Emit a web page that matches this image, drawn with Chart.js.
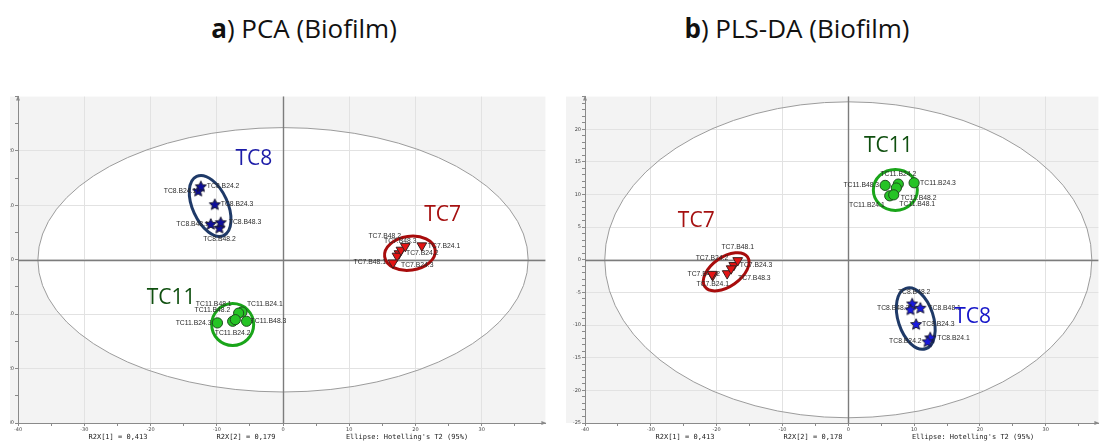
<!DOCTYPE html>
<html>
<head>
<meta charset="utf-8">
<script src="https://cdn.jsdelivr.net/npm/chart.js@4.4.1/dist/chart.umd.min.js"></script>
<style>
  html, body { margin: 0; padding: 0; background: #fff; width: 1105px; height: 446px; overflow: hidden; position: relative; }
  .title { position: absolute; top: 15px; font-family: 'Open Sans', sans-serif; font-size: 26px; line-height: 26px; color: #111; white-space: nowrap; transform: translateX(-50%); }
  .title b { font-weight: 700; }
  .cv { position: absolute; top: 90px; }
  .foot { position: absolute; top: 433px; font-family: 'DejaVu Sans Mono', monospace; font-size: 7px; line-height: 8px; color: #222; white-space: nowrap; transform: translateX(-50%); }
</style>
</head>
<body>
<div class="title" style="left:304px"><b>a</b>) PCA (Biofilm)</div>
<div class="title" style="left:797px"><b>b</b>) PLS-DA (Biofilm)</div>
<canvas id="pca" class="cv" style="left:0px" width="552" height="356"></canvas>
<canvas id="plsda" class="cv" style="left:556px" width="549" height="356"></canvas>
<div class="foot" style="left:118px">R2X[1] = 0,413</div>
<div class="foot" style="left:246px">R2X[2] = 0,179</div>
<div class="foot" style="left:407px">Ellipse: Hotelling's T2 (95%)</div>
<div class="foot" style="left:685px">R2X[1] = 0,413</div>
<div class="foot" style="left:813px">R2X[2] = 0,178</div>
<div class="foot" style="left:973px">Ellipse: Hotelling's T2 (95%)</div>
<script>
// Replicate order within every group
const samples = ['B24.1', 'B24.2', 'B24.3', 'B48.1', 'B48.2', 'B48.3'];

// PCA score plot (t[1], t[2])
const pcaTC7  = [[20.95, 2.6], [17.5, 1.15], [17.2, 0.7], [16.6, -0.55], [17.8, 1.8], [18.45, 2.5]];
const pcaTC8  = [[-12.8, 12.7], [-12.4, 13.5], [-10.3, 10.2], [-10.9, 6.6], [-9.6, 5.9], [-9.4, 6.9]];
const pcaTC11 = [[-6.2, -9.6], [-7.6, -11.3], [-9.9, -11.6], [-6.7, -9.8], [-7.2, -11.0], [-5.5, -11.3]];

// PLS-DA score plot (t[1], t[2])
const plsTC7  = [[-20.6, -2.4], [-18.4, -2.1], [-17.4, -0.85], [-16.8, -0.1], [-20.7, -2.2], [-17.8, -1.35]];
const plsTC8  = [[12.45, -11.9], [12.05, -12.5], [10.3, -9.85], [10.95, -7.35], [9.7, -6.7], [9.45, -7.6]];
const plsTC11 = [[6.3, 9.8], [7.6, 11.6], [10.0, 11.8], [7.3, 11.0], [6.9, 9.95], [5.6, 11.4]];

// Hotelling T2 (95%) semi-axes, in score units
const pcaT2 = [37, 24.3];
const plsT2 = [37, 24.2];

// Tick label text on the axes
const pcaXTicks = [-40, -30, -20, -10, 0, 10, 20, 30];
const pcaYTicks = [-30, -20, -10, 0, 10, 20];
const plsXTicks = [-40, -30, -20, -10, 0, 10, 20, 30];
const plsYTicks = [-25, -20, -15, -10, -5, 0, 5, 10, 15, 20];

// ---- label placement for each sample tag: side, dx, dy (pixels) ----
const pcaTags = {
  TC7:  [['r', 6, 0], ['r', 7, 0], ['r', 4, 9], ['l', -7, -1], ['l', 0, -14], ['c', -5, -5]],
  TC8:  [['l', -2, 0], ['r', 6, 0], ['r', 6, 0], ['l', -2, 0], ['c', 0, 11], ['r', 8, 0]],
  TC11: [['r', 5, -8], ['c', 0, 12], ['l', -6, 0], ['l', -7, -9], ['l', -5, -10], ['r', 4, 0]]
};
const plsTags = {
  TC7:  [['c', 0, 9], ['l', 1, -15], ['r', 6, 0], ['c', 0, -13], ['l', 8, 0], ['r', 7, 10]],
  TC8:  [['r', 7, 1], ['l', -6, 0], ['r', 6, 0], ['r', 8, 0], ['c', 2, -11], ['l', -1, -1]],
  TC11: [['l', -5, 9], ['c', 0, -10], ['r', 6, 0], ['r', 3, 16], ['r', 7, 3], ['l', -6, 0]]
};

// group outlines: centre in score units, radii in pixels, rotation in degrees
const pcaRings = [
  { c: [-11.0, 9.9], rx: 17.5, ry: 32.5, rot: -24.5, color: '#1f3a68' },
  { c: [19.15, 1.2], rx: 25.5, ry: 17, rot: -8, color: '#a80c0c' },
  { c: [-7.6, -11.9], rx: 21, ry: 21, rot: 0, color: '#1aa51a' }
];
const plsRings = [
  { c: [7.15, 10.7], rx: 22, ry: 20.5, rot: 0, color: '#1aa51a' },
  { c: [-18.55, -1.84], rx: 26, ry: 14.6, rot: -35, color: '#a80c0c' },
  { c: [10.25, -9.0], rx: 17.6, ry: 31.8, rot: -18, color: '#1f3a68' }
];

// big group captions (centre in score units)
const pcaCaptions = [
  { text: 'TC8', at: [-4.4, 18.6], color: '#1c1ca8' },
  { text: 'TC7', at: [24.1, 8.2], color: '#a51010' },
  { text: 'TC11', at: [-16.9, -7.0], color: '#0f4f0f' }
];
const plsCaptions = [
  { text: 'TC11', at: [6.1, 17.5], color: '#0f4f0f' },
  { text: 'TC7', at: [-23.1, 6.0], color: '#a51010' },
  { text: 'TC8', at: [18.9, -8.7], color: '#1414c8' }
];

Chart.defaults.font.family = "'DejaVu Sans', sans-serif";

function starImage(fill, R) {
  const s = Math.ceil(2 * R + 4);
  const c = document.createElement('canvas');
  c.width = s; c.height = s;
  const g = c.getContext('2d');
  const cx = s / 2, cy = s / 2 + 0.5, r = R * 0.47;
  g.beginPath();
  for (let i = 0; i < 10; i++) {
    const a = -Math.PI / 2 + i * Math.PI / 5;
    const rr = i % 2 === 0 ? R : r;
    const px = cx + rr * Math.cos(a), py = cy + rr * Math.sin(a);
    if (i === 0) g.moveTo(px, py); else g.lineTo(px, py);
  }
  g.closePath();
  g.fillStyle = fill; g.fill();
  g.lineWidth = 1; g.strokeStyle = '#1c1c30'; g.stroke();
  return c;
}

function toPoints(arr) { return arr.map(([x, y]) => ({ x, y })); }
function names(g) { return samples.map(s => g + '.' + s); }

function datasets(tc7, tc8, tc11, tags, starFill) {
  return [
    { data: toPoints(tc11), names: names('TC11'), tags: tags.TC11,
      pointStyle: 'circle', pointRadius: 5.1, pointBackgroundColor: '#25c425',
      pointBorderColor: '#1e4d1e', pointBorderWidth: 1 },
    { data: toPoints(tc7), names: names('TC7'), tags: tags.TC7,
      pointStyle: 'triangle', rotation: 180, pointRadius: 5.6, pointBackgroundColor: '#e41414',
      pointBorderColor: '#3a2020', pointBorderWidth: 1 },
    { data: toPoints(tc8), names: names('TC8'), tags: tags.TC8,
      pointStyle: starImage(starFill, 5.8), pointRadius: 5 }
  ];
}

const panelPlugin = {
  id: 'panel',
  beforeDraw(chart, args, o) {
    const { ctx, chartArea: a, scales: { x, y } } = chart;
    ctx.save();
    ctx.fillStyle = '#f3f3f3';
    ctx.fillRect(o.panelLeft, a.top, a.right - o.panelLeft, a.bottom - a.top);
    const cx = x.getPixelForValue(0), cy = y.getPixelForValue(0);
    const rx = x.getPixelForValue(o.t2[0]) - cx, ry = cy - y.getPixelForValue(o.t2[1]);
    ctx.beginPath();
    ctx.ellipse(cx, cy, rx, ry, 0, 0, Math.PI * 2);
    ctx.fillStyle = '#ffffff';
    ctx.fill();
    ctx.restore();
  },
  beforeDatasetsDraw(chart, args, o) {
    const { ctx, chartArea: a, scales: { x, y } } = chart;
    ctx.save();
    const cx = x.getPixelForValue(0), cy = y.getPixelForValue(0);
    // Hotelling ellipse outline
    const rx = x.getPixelForValue(o.t2[0]) - cx, ry = cy - y.getPixelForValue(o.t2[1]);
    ctx.beginPath();
    ctx.ellipse(cx, cy, rx, ry, 0, 0, Math.PI * 2);
    ctx.strokeStyle = '#9c9c9c'; ctx.lineWidth = 1; ctx.stroke();
    // zero lines
    ctx.strokeStyle = '#7c7c7c'; ctx.lineWidth = 1.4;
    ctx.beginPath();
    ctx.moveTo(Math.round(cx) + 0.5, a.top); ctx.lineTo(Math.round(cx) + 0.5, a.bottom);
    ctx.moveTo(a.left, Math.round(cy) + 0.5); ctx.lineTo(a.right, Math.round(cy) + 0.5);
    ctx.stroke();
    // axis arrow heads
    ctx.fillStyle = '#8a8a8a';
    ctx.beginPath();
    ctx.moveTo(a.left, a.top - 1); ctx.lineTo(a.left - 2, a.top + 4); ctx.lineTo(a.left + 2, a.top + 4); ctx.closePath();
    ctx.moveTo(a.right + 1, a.bottom); ctx.lineTo(a.right - 4, a.bottom - 2); ctx.lineTo(a.right - 4, a.bottom + 2); ctx.closePath();
    ctx.fill();
    // group outlines
    o.rings.forEach(r => {
      ctx.beginPath();
      ctx.ellipse(x.getPixelForValue(r.c[0]), y.getPixelForValue(r.c[1]), r.rx, r.ry, r.rot * Math.PI / 180, 0, Math.PI * 2);
      ctx.strokeStyle = r.color; ctx.lineWidth = 3; ctx.stroke();
    });
    // sample tags
    ctx.font = "6.8px 'Liberation Sans', sans-serif";
    ctx.textBaseline = 'middle';
    ctx.fillStyle = '#2a2a2a';
    chart.data.datasets.forEach((ds, i) => {
      const meta = chart.getDatasetMeta(i);
      meta.data.forEach((el, j) => {
        const [side, dx, dy] = ds.tags[j];
        ctx.textAlign = side === 'l' ? 'right' : side === 'r' ? 'left' : 'center';
        ctx.fillText(ds.names[j], el.x + dx, el.y + dy);
      });
    });
    ctx.restore();
  },
  afterDatasetsDraw(chart, args, o) {
    const { ctx, scales: { x, y } } = chart;
    ctx.save();
    ctx.font = "21px 'Open Sans', sans-serif";
    ctx.textAlign = 'center';
    ctx.textBaseline = 'middle';
    o.captions.forEach(c => {
      ctx.fillStyle = c.color;
      ctx.fillText(c.text, x.getPixelForValue(c.at[0]), y.getPixelForValue(c.at[1]));
    });
    ctx.restore();
  }
};

function axis(min, max, step, labels, fit, horizontal) {
  return {
    type: 'linear', min, max,
    afterFit: s => { if (horizontal) s.height = fit; else s.width = fit; },
    border: { display: true, color: '#8a8a8a', width: 1 },
    grid: {
      drawTicks: true, tickLength: 3, tickColor: '#8a8a8a', tickWidth: 1, lineWidth: 1,
      color: c => (c.tick && labels.includes(c.tick.value) && c.tick.value !== min) ? '#e2e2e2' : 'rgba(0,0,0,0)'
    },
    ticks: {
      stepSize: step, includeBounds: false, autoSkip: false, maxRotation: 0, minRotation: 0,
      padding: 1, color: '#444', font: { size: 5 },
      callback: v => labels.includes(v) ? String(v) : ''
    }
  };
}

function build(id, sets, cfg) {
  return new Chart(document.getElementById(id), {
    type: 'scatter',
    data: { datasets: sets },
    options: {
      responsive: false, animation: false, events: [],
      layout: { padding: { left: cfg.padLeft, right: cfg.padRight, top: 5, bottom: 0 } },
      plugins: {
        legend: { display: false }, tooltip: { enabled: false },
        panel: { panelLeft: cfg.padLeft, t2: cfg.t2, rings: cfg.rings, captions: cfg.captions }
      },
      scales: {
        x: axis(-40, cfg.xMax, 5, cfg.xTicks, 23, true),
        y: axis(cfg.yMin, -cfg.yMin, cfg.yStep, cfg.yTicks, cfg.yWidth, false)
      }
    },
    plugins: [panelPlugin]
  });
}

build('pca', datasets(pcaTC7, pcaTC8, pcaTC11, pcaTags, '#0d0d9a'), {
  padLeft: 10, padRight: 4, xMax: 39.6, yMin: -30, yStep: 5, yWidth: 8,
  xTicks: pcaXTicks, yTicks: pcaYTicks, t2: pcaT2, rings: pcaRings, captions: pcaCaptions
});
build('plsda', datasets(plsTC7, plsTC8, plsTC11, plsTags, '#1818e0'), {
  padLeft: 10, padRight: 2, xMax: 38, yMin: -25, yStep: 1, yWidth: 19,
  xTicks: plsXTicks, yTicks: plsYTicks, t2: plsT2, rings: plsRings, captions: plsCaptions
});
</script>
</body>
</html>
